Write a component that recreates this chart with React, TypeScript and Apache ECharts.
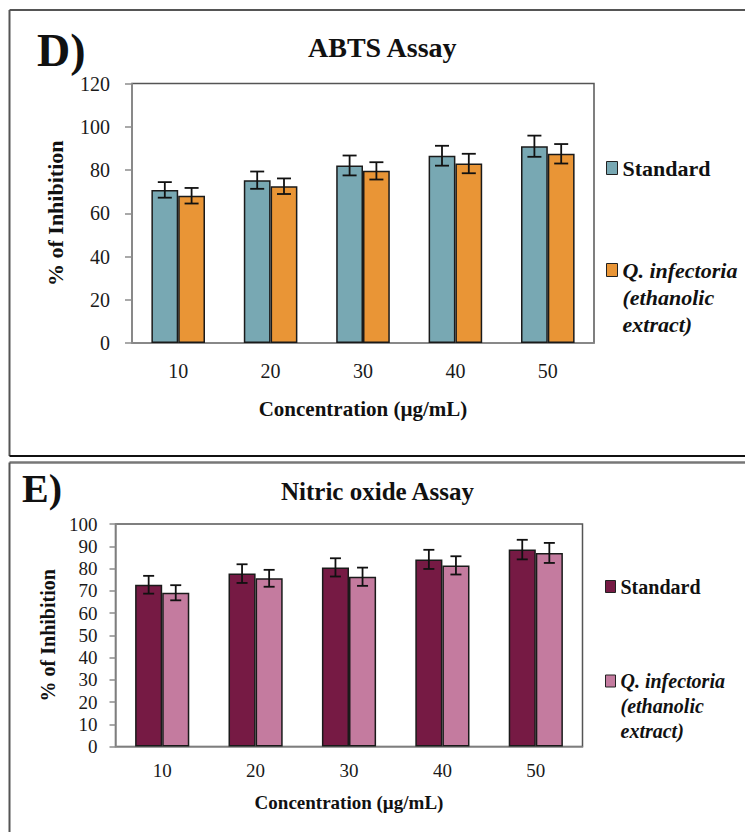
import React, { useEffect, useRef } from "react";
import * as echarts from "echarts";

const FONT = '"Liberation Serif", "Times New Roman", serif';

const categories = ["10", "20", "30", "40", "50"];

const abtsStandard = [70.8, 75.3, 82.1, 86.6, 91.0];
const abtsStandardErr = [3.6, 4.0, 4.6, 4.6, 4.9];
const abtsExtract = [68.1, 72.5, 79.6, 83.0, 87.5];
const abtsExtractErr = [3.6, 3.6, 4.0, 4.5, 4.5];

const noStandard = [72.7, 77.7, 80.5, 84.1, 88.5];
const noStandardErr = [4.0, 4.2, 4.1, 4.3, 4.4];
const noExtract = [69.1, 75.6, 76.3, 81.4, 87.0];
const noExtractErr = [3.4, 3.8, 4.1, 4.1, 4.5];

const abtsTicks = { min: 0, max: 120, interval: 20 };
const noTicks = { min: 0, max: 100, interval: 10 };

const BAR_FRAC = 0.29;

function errSeries(name: string, vals: number[], errs: number[], axis: number, side: number, capHalf: number) {
  return {
    type: "custom",
    name,
    xAxisIndex: axis,
    yAxisIndex: axis,
    z: 5,
    silent: true,
    encode: { x: 0, y: 1 },
    data: vals.map((v, i) => [i, v, errs[i]]),
    renderItem: (params: any, api: any) => {
      const xi = api.value(0);
      const v = api.value(1);
      const e = api.value(2);
      const band = api.size([1, 0])[0];
      const off = side * band * BAR_FRAC / 2;
      const hi = api.coord([xi, v + e]);
      const lo = api.coord([xi, v - e]);
      const x = hi[0] + off;
      const st = { stroke: "#111", lineWidth: 1.8 };
      return {
        type: "group",
        children: [
          { type: "line", shape: { x1: x, y1: hi[1], x2: x, y2: lo[1] }, style: st },
          { type: "line", shape: { x1: x - capHalf, y1: hi[1], x2: x + capHalf, y2: hi[1] }, style: st },
          { type: "line", shape: { x1: x - capHalf, y1: lo[1], x2: x + capHalf, y2: lo[1] }, style: st },
        ],
      };
    },
  };
}

export default function App() {
  const ref = useRef<HTMLDivElement>(null);
  useEffect(() => {
    if (!ref.current) return;
    const chart = echarts.init(ref.current, null, { renderer: "svg" });
    const axisLineStyle = { color: "#8c8c8c", width: 1.5 };
    const barBorder = { borderColor: "#1a1a1a", borderWidth: 1.5 };
    const legendBase = {
      orient: "vertical",
      padding: 0,
      icon: "rect",
      selectedMode: false,
    };
    const option: any = {
      animation: false,
      backgroundColor: "#ffffff",
      title: [
        {
          text: "ABTS Assay",
          left: 308,
          top: 33,
          padding: 0,
          textStyle: { fontFamily: FONT, fontSize: 28, fontWeight: "bold", color: "#111" },
        },
        {
          text: "Nitric oxide Assay",
          left: 281,
          top: 479,
          padding: 0,
          textStyle: { fontFamily: FONT, fontSize: 25, fontWeight: "bold", color: "#111" },
        },
      ],
      graphic: [
        { type: "line", shape: { x1: 9.5, y1: 10, x2: 745, y2: 10 }, style: { stroke: "#555", lineWidth: 2 } },
        { type: "line", shape: { x1: 9.5, y1: 10, x2: 9.5, y2: 456 }, style: { stroke: "#555", lineWidth: 2 } },
        { type: "line", shape: { x1: 9.5, y1: 456, x2: 745, y2: 456 }, style: { stroke: "#111", lineWidth: 2 } },
        { type: "line", shape: { x1: 9.5, y1: 462.5, x2: 745, y2: 462.5 }, style: { stroke: "#777", lineWidth: 2.5 } },
        { type: "line", shape: { x1: 9.5, y1: 462.5, x2: 9.5, y2: 832 }, style: { stroke: "#555", lineWidth: 2 } },
        {
          type: "text",
          x: 37,
          y: 50,
          style: { text: "D)", font: `bold 46px ${FONT}`, fill: "#111", verticalAlign: "middle" },
        },
        {
          type: "text",
          x: 22,
          y: 488,
          style: { text: "E)", font: `bold 40px ${FONT}`, fill: "#111", verticalAlign: "middle" },
        },
      ],
      legend: [
        {
          ...legendBase,
          left: 606,
          top: 154.5,
          itemWidth: 11,
          itemHeight: 13,
          data: ["ABTS Standard"],
          formatter: () => "Standard",
          itemStyle: { borderColor: "#222", borderWidth: 1 },
          textStyle: { fontFamily: FONT, fontSize: 22, fontWeight: "bold", color: "#111", lineHeight: 27 },
        },
        {
          ...legendBase,
          left: 606,
          top: 202.5,
          itemWidth: 11,
          itemHeight: 13,
          data: ["ABTS Q. infectoria (ethanolic extract)"],
          formatter: () => "\n\nQ. infectoria\n(ethanolic\nextract)",
          itemStyle: { borderColor: "#222", borderWidth: 1 },
          textStyle: {
            fontFamily: FONT,
            fontSize: 22,
            fontWeight: "bold",
            fontStyle: "italic",
            color: "#111",
            lineHeight: 27,
          },
        },
        {
          ...legendBase,
          left: 605,
          top: 574,
          itemWidth: 10,
          itemHeight: 12,
          data: ["NO Standard"],
          formatter: () => "Standard",
          itemStyle: { borderColor: "#222", borderWidth: 1 },
          textStyle: { fontFamily: FONT, fontSize: 20, fontWeight: "bold", color: "#111", lineHeight: 25 },
        },
        {
          ...legendBase,
          left: 605,
          top: 618.5,
          itemWidth: 10,
          itemHeight: 12,
          data: ["NO Q. infectoria (ethanolic extract)"],
          formatter: () => "\n\nQ. infectoria\n(ethanolic\nextract)",
          itemStyle: { borderColor: "#222", borderWidth: 1 },
          textStyle: {
            fontFamily: FONT,
            fontSize: 20,
            fontWeight: "bold",
            fontStyle: "italic",
            color: "#111",
            lineHeight: 25,
          },
        },
      ],
      grid: [
        { left: 132, right: 151, top: 83.5, bottom: 489, show: true, borderColor: "#555", borderWidth: 1.5 },
        { left: 115.5, right: 162.5, top: 524, bottom: 85.5, show: true, borderColor: "#555", borderWidth: 1.5 },
      ],
      xAxis: [
        {
          type: "category",
          gridIndex: 0,
          data: categories,
          name: "Concentration (µg/mL)",
          nameLocation: "middle",
          nameGap: 55,
          nameTextStyle: { fontFamily: FONT, fontSize: 21, fontWeight: "bold", color: "#111" },
          axisLine: { lineStyle: axisLineStyle },
          axisTick: { show: false },
          axisLabel: { fontFamily: FONT, fontSize: 20, color: "#1a1a1a", margin: 18 },
        },
        {
          type: "category",
          gridIndex: 1,
          data: categories,
          name: "Concentration (µg/mL)",
          nameLocation: "middle",
          nameGap: 46,
          nameTextStyle: { fontFamily: FONT, fontSize: 19, fontWeight: "bold", color: "#111" },
          axisLine: { lineStyle: axisLineStyle },
          axisTick: { show: false },
          axisLabel: { fontFamily: FONT, fontSize: 19, color: "#1a1a1a", margin: 14 },
        },
      ],
      yAxis: [
        {
          type: "value",
          gridIndex: 0,
          ...abtsTicks,
          name: "% of Inhibition",
          nameLocation: "middle",
          nameRotate: 90,
          nameGap: 66,
          nameTextStyle: { fontFamily: FONT, fontSize: 22, fontWeight: "bold", color: "#111" },
          axisLine: { show: true, lineStyle: axisLineStyle },
          axisTick: { show: true, length: 7, lineStyle: axisLineStyle },
          splitLine: { show: false },
          axisLabel: { fontFamily: FONT, fontSize: 20, color: "#1a1a1a", margin: 22 },
        },
        {
          type: "value",
          gridIndex: 1,
          ...noTicks,
          name: "% of Inhibition",
          nameLocation: "middle",
          nameRotate: 90,
          nameGap: 54,
          nameTextStyle: { fontFamily: FONT, fontSize: 20, fontWeight: "bold", color: "#111" },
          axisLine: { show: true, lineStyle: axisLineStyle },
          axisTick: { show: true, length: 6, lineStyle: axisLineStyle },
          splitLine: { show: false },
          axisLabel: { fontFamily: FONT, fontSize: 19, color: "#1a1a1a", margin: 18 },
        },
      ],
      series: [
        {
          type: "bar",
          name: "ABTS Standard",
          xAxisIndex: 0,
          yAxisIndex: 0,
          data: abtsStandard,
          barWidth: "29%",
          barGap: "0%",
          itemStyle: { color: "#78A8B3", ...barBorder },
        },
        {
          type: "bar",
          name: "ABTS Q. infectoria (ethanolic extract)",
          xAxisIndex: 0,
          yAxisIndex: 0,
          data: abtsExtract,
          barWidth: "29%",
          barGap: "0%",
          itemStyle: { color: "#E99536", ...barBorder },
        },
        {
          type: "bar",
          name: "NO Standard",
          xAxisIndex: 1,
          yAxisIndex: 1,
          data: noStandard,
          barWidth: "29%",
          barGap: "0%",
          itemStyle: { color: "#761A44", ...barBorder },
        },
        {
          type: "bar",
          name: "NO Q. infectoria (ethanolic extract)",
          xAxisIndex: 1,
          yAxisIndex: 1,
          data: noExtract,
          barWidth: "29%",
          barGap: "0%",
          itemStyle: { color: "#C47B9F", ...barBorder },
        },
        errSeries("ABTS Standard error", abtsStandard, abtsStandardErr, 0, -1, 7),
        errSeries("ABTS extract error", abtsExtract, abtsExtractErr, 0, 1, 7),
        errSeries("NO Standard error", noStandard, noStandardErr, 1, -1, 5.5),
        errSeries("NO extract error", noExtract, noExtractErr, 1, 1, 5.5),
      ],
    };
    chart.setOption(option);
    return () => chart.dispose();
  }, []);
  return (
    <div
      ref={ref}
      style={{ position: "absolute", left: 0, top: 0, width: 745, height: 832, background: "#fff" }}
    />
  );
}
